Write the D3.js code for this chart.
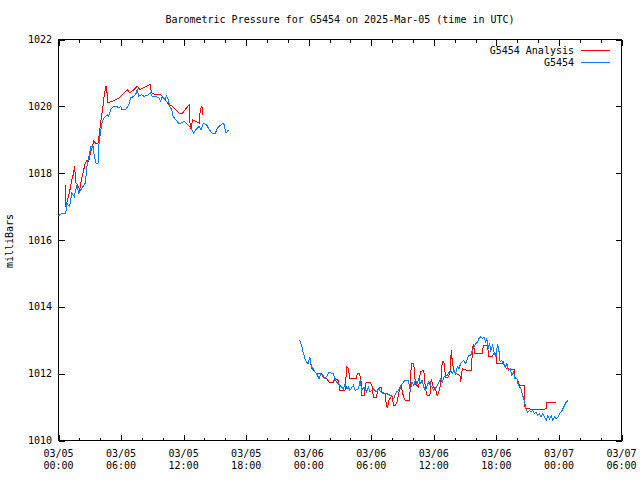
<!DOCTYPE html>
<html>
<head>
<meta charset="utf-8">
<script src="https://cdn.jsdelivr.net/npm/d3@7"></script>
<style>
  html, body { margin: 0; padding: 0; background: #fff; }
  svg text { font-family: "DejaVu Sans Mono", "Liberation Mono", monospace; font-size: 10px; fill: #000; }
</style>
</head>
<body>
<svg id="chart" width="640" height="480"></svg>
<script>
// ---- DATA (hours since 2025-03-05 00:00 UTC, pressure in mb) ----
const chartTitle = "Barometric Pressure for G5454 on 2025-Mar-05 (time in UTC)";
const yLabel = "milliBars";
const seriesNames = ["G5454 Analysis", "G5454"];
const yTicks = [1010, 1012, 1014, 1016, 1018, 1020, 1022];
const xTickHours = [0, 6, 12, 18, 24, 30, 36, 42, 48, 54];

// Observed station pressure (blue); null marks the data gap
const obsHours = [
  0.00,0.32,0.70,0.80,1.06,1.28,1.51,1.76,1.93,2.25,2.57,2.73,2.89,3.11,3.31,3.44,3.60,3.79,3.89,4.02,
  4.18,4.34,4.66,4.82,4.99,5.30,5.56,5.79,5.95,6.10,6.43,6.75,6.91,7.23,7.40,7.55,7.71,7.97,8.20,8.51,
  8.84,9.00,9.32,9.64,9.80,9.96,10.22,10.35,10.54,10.67,10.87,10.99,11.25,11.50,11.74,12.05,12.37,12.70,12.95,13.18,
  13.50,13.66,13.89,14.20,14.46,14.72,15.04,15.26,15.59,15.84,16.07,16.33,
  20.0,
  23.14,23.31,23.46,23.63,23.79,23.94,24.11,24.27,24.43,24.59,24.75,25.00,25.14,25.39,25.55,25.78,25.97,26.20,26.35,26.52,
  26.68,27.00,27.32,27.48,27.65,27.80,27.96,28.28,28.45,28.77,28.93,29.09,29.31,29.57,29.73,29.89,30.21,30.47,30.69,30.93,
  31.18,31.50,31.82,32.14,32.40,32.62,32.85,33.10,33.27,33.55,33.75,33.91,34.07,34.23,34.40,34.55,34.71,34.88,35.03,35.20,
  35.36,35.51,35.68,35.84,36.00,36.26,36.48,36.64,36.81,36.96,37.29,37.44,37.61,37.77,37.93,38.09,38.25,38.41,38.57,38.83,
  39.05,39.22,39.37,39.54,39.70,39.86,40.02,40.18,40.33,40.50,40.66,40.82,40.98,41.08,41.20,41.34,41.46,41.63,41.78,41.95,
  42.11,42.26,42.36,42.50,42.69,42.85,43.01,43.14,43.33,43.46,43.65,43.78,43.97,44.10,44.36,44.52,44.68,44.84,45.00,45.16,
  45.32,45.48,45.64,45.80,45.96,46.12,46.29,46.45,46.61,46.77,46.93,47.09,47.25,47.41,47.57,47.73,47.90,48.05,48.21,48.38,
  48.54,48.70,48.86
];
const obsPressure = [
  1016.72,1016.80,1016.80,1017.10,1017.00,1017.40,1017.30,1017.65,1017.40,1017.55,1017.70,1018.20,1018.45,1018.80,1018.80,1018.50,1018.30,1018.30,1018.90,1019.20,
  1019.50,1019.65,1019.75,1019.70,1019.90,1020.00,1020.00,1019.95,1020.00,1019.90,1019.90,1020.05,1020.25,1020.30,1020.35,1020.50,1020.30,1020.35,1020.30,1020.32,
  1020.40,1020.30,1020.30,1020.25,1020.15,1020.30,1020.20,1020.30,1020.20,1020.00,1019.90,1019.70,1019.60,1019.50,1019.50,1019.55,1019.45,1019.35,1019.20,1019.30,
  1019.40,1019.30,1019.50,1019.45,1019.30,1019.20,1019.20,1019.35,1019.45,1019.50,1019.20,1019.30,
  null,
  1013.00,1012.85,1012.65,1012.45,1012.35,1012.30,1012.50,1012.20,1012.15,1012.05,1012.00,1011.85,1012.00,1011.95,1011.85,1011.95,1012.05,1012.00,1012.00,1011.85,
  1011.75,1011.65,1011.55,1011.70,1011.55,1011.60,1011.50,1011.65,1011.50,1011.55,1011.80,1011.50,1011.60,1011.45,1011.60,1011.45,1011.55,1011.45,1011.55,1011.45,
  1011.40,1011.40,1011.35,1011.25,1011.45,1011.50,1011.65,1011.75,1011.80,1011.80,1011.50,1011.75,1011.65,1011.80,1011.70,1011.85,1011.70,1011.80,1011.60,1011.50,
  1011.65,1011.75,1011.65,1011.60,1011.50,1011.60,1011.75,1011.85,1011.75,1011.90,1011.95,1012.05,1012.10,1012.00,1012.10,1012.00,1012.20,1012.15,1012.30,1012.40,
  1012.30,1012.45,1012.55,1012.55,1012.70,1012.80,1012.90,1012.95,1013.05,1013.10,1013.05,1013.10,1012.95,1013.05,1012.75,1012.90,1012.70,1012.85,1012.65,1012.50,
  1012.90,1012.65,1012.35,1012.40,1012.30,1012.20,1012.30,1012.10,1012.15,1011.95,1012.05,1011.85,1011.85,1011.65,1011.55,1011.35,1011.20,1010.95,1010.85,1010.90,
  1010.85,1010.90,1010.80,1010.85,1010.75,1010.80,1010.70,1010.80,1010.70,1010.60,1010.75,1010.65,1010.75,1010.60,1010.70,1010.65,1010.70,1010.80,1010.85,1010.95,
  1011.05,1011.15,1011.20
];

// Model analysis pressure (red); null marks the data gap
const anaHours = [
  0.65,0.70,0.96,1.13,1.28,1.45,1.54,1.67,1.83,2.03,2.19,2.34,2.57,2.73,2.89,3.06,3.21,3.38,3.54,3.79,
  3.92,4.08,4.27,4.41,4.56,4.66,4.75,5.14,5.47,5.79,6.27,6.59,6.85,7.23,7.55,7.81,8.10,8.78,8.94,9.26,
  9.80,10.61,10.93,11.57,11.89,12.54,12.63,12.73,12.85,13.18,13.50,13.60,13.76,13.82,
  19.0,
  24.17,24.27,24.59,24.75,25.24,25.39,25.72,25.97,26.35,26.52,26.84,27.00,27.48,27.65,27.80,27.96,28.54,28.67,28.86,29.00,
  29.09,29.31,29.51,29.89,30.06,30.21,30.47,30.69,30.93,31.02,31.34,31.44,31.56,31.70,31.98,32.14,32.30,32.46,32.62,32.85,
  33.10,33.27,33.68,33.84,34.07,34.23,34.55,34.71,35.03,35.20,35.36,35.62,35.75,35.94,36.16,36.32,36.48,36.64,36.81,36.96,
  37.13,37.35,37.54,37.68,37.77,37.93,38.19,38.50,38.57,38.73,39.22,39.60,39.70,39.80,39.92,40.43,40.66,40.75,41.08,41.20,
  41.29,41.63,41.72,41.95,42.04,42.59,42.69,42.81,43.01,43.71,43.78,43.97,44.10,44.20,44.68,44.75,45.16,45.32,46.29,46.77,
  46.86,47.25,47.41,47.73
];
const anaPressure = [
  1017.65,1017.00,1017.30,1017.55,1017.80,1018.00,1018.20,1017.70,1017.65,1017.50,1017.80,1018.00,1018.30,1018.40,1018.35,1018.60,1018.75,1018.95,1018.90,1018.90,
  1019.20,1019.60,1020.00,1020.40,1020.60,1020.40,1020.10,1020.15,1020.20,1020.25,1020.40,1020.50,1020.40,1020.50,1020.60,1020.50,1020.55,1020.65,1020.40,1020.35,
  1020.35,1020.05,1020.00,1019.80,1019.80,1020.05,1019.40,1019.30,1019.60,1019.55,1019.50,1019.90,1020.00,1019.75,
  null,
  1012.35,1012.15,1012.05,1012.00,1012.00,1011.90,1011.85,1011.75,1011.75,1011.85,1011.80,1011.50,1011.50,1012.20,1012.15,1011.85,1011.85,1012.00,1012.00,1011.85,
  1011.35,1011.35,1011.75,1011.75,1011.65,1011.30,1011.30,1011.55,1011.60,1011.45,1011.40,1011.05,1011.00,1011.20,1011.35,1011.05,1011.05,1011.15,1011.40,1011.65,
  1011.30,1011.20,1011.20,1012.30,1012.30,1011.70,1011.60,1012.05,1012.10,1011.55,1011.35,1011.35,1011.85,1011.60,1011.55,1011.35,1011.45,1011.65,1012.35,1012.35,
  1011.90,1011.90,1012.00,1012.70,1012.35,1012.05,1012.00,1011.95,1011.75,1012.15,1012.10,1012.10,1012.70,1012.90,1012.60,1012.60,1012.60,1012.85,1012.85,1012.70,
  1012.50,1012.50,1012.60,1012.60,1012.30,1012.30,1012.35,1012.20,1012.15,1012.12,1011.90,1011.85,1011.75,1011.65,1011.65,1010.95,1010.95,1010.92,1010.92,1010.95,
  1011.15,1011.12,1011.15,1011.15
];

// ---- CHART ----
const svg = d3.select("#chart");
const pLeft = 58.5, pRight = 621.5, pTop = 39.5, pBottom = 440.5;
const t0 = Date.UTC(2025, 2, 5, 0, 0);
const toDate = h => new Date(t0 + h * 3600e3);

const x = d3.scaleUtc().domain([toDate(0), toDate(54)]).range([pLeft, pRight]);
const y = d3.scaleLinear().domain([1010, 1022]).range([pBottom, pTop]);

const fmtDay = d3.utcFormat("%m/%d");
const fmtTime = d3.utcFormat("%H:%M");

// minor x ticks every 2 hours
const minorX = d3.range(0, 55, 2).filter(h => h % 6 !== 0).map(toDate);
const majorX = xTickHours.map(toDate);

const g = svg.append("g");

// bottom ticks (inward)
g.append("g").attr("transform", `translate(0,${pBottom})`)
  .call(d3.axisBottom(x).tickValues(minorX).tickSize(-3).tickFormat(""))
  .call(a => a.select(".domain").remove());
g.append("g").attr("transform", `translate(0,${pBottom})`)
  .call(d3.axisBottom(x).tickValues(majorX).tickSize(-6).tickFormat(""))
  .call(a => a.select(".domain").remove());
// top ticks (mirror)
g.append("g").attr("transform", `translate(0,${pTop})`)
  .call(d3.axisTop(x).tickValues(minorX).tickSize(-3).tickFormat(""))
  .call(a => a.select(".domain").remove());
g.append("g").attr("transform", `translate(0,${pTop})`)
  .call(d3.axisTop(x).tickValues(majorX).tickSize(-6).tickFormat(""))
  .call(a => a.select(".domain").remove());
// y ticks left and right
g.append("g").attr("transform", `translate(${pLeft},0)`)
  .call(d3.axisLeft(y).tickValues(yTicks).tickSize(-6).tickFormat(""))
  .call(a => a.select(".domain").remove());
g.append("g").attr("transform", `translate(${pRight},0)`)
  .call(d3.axisRight(y).tickValues(yTicks).tickSize(-6).tickFormat(""))
  .call(a => a.select(".domain").remove());
g.selectAll(".tick line").attr("stroke", "#000").attr("shape-rendering", "crispEdges");

// x tick labels (two lines)
const xl = svg.append("g");
majorX.forEach(d => {
  const t = xl.append("text").attr("x", x(d)).attr("text-anchor", "middle");
  t.append("tspan").attr("x", x(d)).attr("y", 457).text(fmtDay(d));
  t.append("tspan").attr("x", x(d)).attr("y", 469).text(fmtTime(d));
});
// y tick labels
yTicks.forEach(v => {
  svg.append("text").attr("x", 52).attr("y", y(v) + 3.5).attr("text-anchor", "end").text(v);
});

// border
svg.append("rect").attr("x", pLeft).attr("y", pTop).attr("width", pRight - pLeft).attr("height", pBottom - pTop)
  .attr("fill", "none").attr("stroke", "#000").attr("shape-rendering", "crispEdges");

// lines
const line = d3.line().defined(d => d.v != null).x(d => x(toDate(d.h))).y(d => y(d.v));
const anaData = anaHours.map((h, i) => ({ h, v: anaPressure[i] }));
const obsData = obsHours.map((h, i) => ({ h, v: obsPressure[i] }));
const colors = ["#ff0000", "#0080ff"];

svg.append("path").datum(anaData).attr("d", line)
  .attr("fill", "none").attr("stroke", colors[0]).attr("stroke-width", 1)
  .attr("shape-rendering", "crispEdges");
svg.append("path").datum(obsData).attr("d", line)
  .attr("fill", "none").attr("stroke", colors[1]).attr("stroke-width", 1)
  .attr("shape-rendering", "crispEdges");

// legend
seriesNames.forEach((n, i) => {
  const yy = 50 + i * 12;
  svg.append("text").attr("x", 574).attr("y", yy + 3.5).attr("text-anchor", "end").text(n);
  svg.append("line").attr("x1", 581).attr("x2", 610).attr("y1", yy + 0.5).attr("y2", yy + 0.5)
    .attr("stroke", colors[i]).attr("stroke-width", 1).attr("shape-rendering", "crispEdges");
});

// title and y label
svg.append("text").attr("x", 340).attr("y", 23).attr("text-anchor", "middle").text(chartTitle);
svg.append("text").attr("transform", "translate(13,241) rotate(-90)").attr("text-anchor", "middle").text(yLabel);
</script>
</body>
</html>
